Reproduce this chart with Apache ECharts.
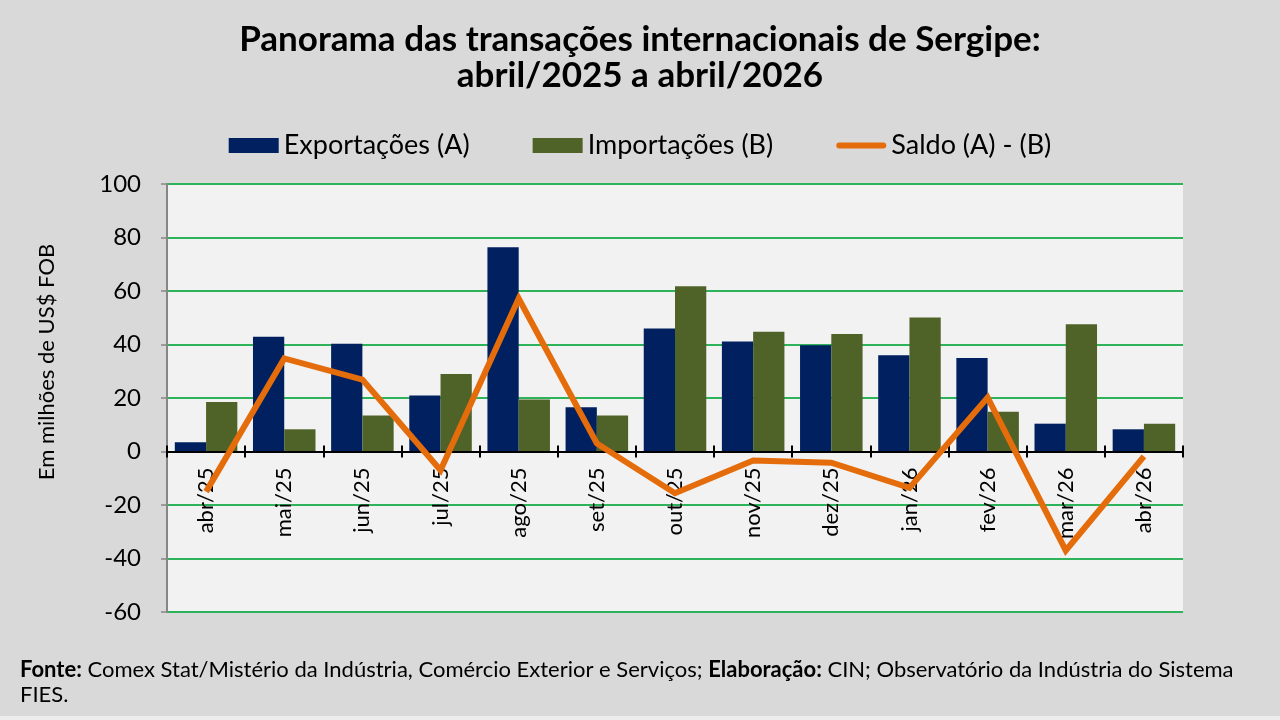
<!DOCTYPE html>
<html>
<head>
<meta charset="utf-8">
<script src="https://cdn.jsdelivr.net/npm/echarts@6/dist/echarts.min.js"></script>
<style>
html,body{margin:0;padding:0;background:#d9d9d9;}
#c{width:1280px;height:720px;}
</style>
</head>
<body>
<div id="c"></div>
<script>
const categories = ['abr/25','mai/25','jun/25','jul/25','ago/25','set/25','out/25','nov/25','dez/25','jan/26','fev/26','mar/26','abr/26'];
const exportacoes = [3.5, 42.9, 40.3, 20.9, 76.4, 16.5, 46.0, 41.1, 39.7, 36.0, 35.0, 10.4, 8.3];
const importacoes = [18.5, 8.3, 13.5, 29.0, 19.4, 13.5, 61.8, 44.8, 43.9, 50.1, 14.9, 47.6, 10.4];
const saldo = [-15.0, 34.8, 26.9, -7.0, 57.2, 3.0, -15.6, -3.4, -4.2, -13.6, 20.2, -37.0, -1.8];
const yTicks = [-60, -40, -20, 0, 20, 40, 60, 80, 100];

const FONT = 'Lato';
const gridTop = 184, gridBottom = 108, chartH = 720;
const yMin = yTicks[0], yMax = yTicks[yTicks.length - 1];
const plotH = chartH - gridTop - gridBottom;
// distance of the zero line above the grid's bottom edge, from the axis scale
const zeroOffset = -plotH * (0 - yMin) / (yMax - yMin);

const chart = echarts.init(document.getElementById('c'));
chart.setOption({
  backgroundColor: '#d9d9d9',
  animation: false,
  textStyle: { fontFamily: FONT, color: '#000' },
  title: {
    text: 'Panorama das transações internacionais de Sergipe:\nabril/2025 a abril/2026',
    left: 'center',
    top: 17,
    textStyle: { fontFamily: FONT, fontSize: 35, fontWeight: 'bold', color: '#000', lineHeight: 36 }
  },
  legend: {
    top: 127,
    left: 'center',
    itemWidth: 50,
    itemHeight: 15,
    itemGap: 63,
    textStyle: { fontFamily: FONT, fontSize: 27, color: '#000' },
    data: [
      { name: 'Exportações (A)', icon: 'rect' },
      { name: 'Importações (B)', icon: 'rect' },
      { name: 'Saldo (A) - (B)', icon: 'path://M3,0 L47,0 A3,3 0 0 1 47,6 L3,6 A3,3 0 0 1 3,0 Z' }
    ]
  },
  grid: {
    left: 167, right: 97, top: gridTop, bottom: gridBottom,
    show: true, backgroundColor: '#f2f2f2', borderWidth: 0
  },
  xAxis: [
    {
      type: 'category',
      data: categories,
      offset: zeroOffset,
      axisLine: { onZero: false, lineStyle: { color: '#000', width: 2 } },
      axisTick: { show: true, length: 6, lineStyle: { color: '#000', width: 2 } },
      axisLabel: { rotate: 90, fontSize: 22, color: '#000', margin: 16, fontFamily: FONT },
      z: 5
    },
    {
      type: 'category',
      data: categories,
      position: 'bottom',
      offset: zeroOffset,
      axisLine: { show: false, onZero: false },
      axisTick: { show: true, inside: true, length: 6, lineStyle: { color: '#000', width: 2 } },
      axisLabel: { show: false },
      splitLine: { show: false },
      z: 5
    }
  ],
  yAxis: {
    type: 'value',
    min: yMin,
    max: yMax,
    interval: 20,
    axisLine: { show: true, lineStyle: { color: '#868686', width: 2 } },
    axisTick: { show: true, length: 6, lineStyle: { color: '#868686', width: 1.5 } },
    axisLabel: { fontSize: 24, color: '#000', margin: 26, fontFamily: FONT },
    splitLine: { show: true, lineStyle: { color: '#2fb35a', width: 2 } }
  },
  series: [
    {
      name: 'Exportações (A)', type: 'bar', data: exportacoes,
      barGap: '0%', barCategoryGap: '20%',
      itemStyle: { color: '#00205f' }
    },
    {
      name: 'Importações (B)', type: 'bar', data: importacoes,
      barGap: '0%', barCategoryGap: '20%',
      itemStyle: { color: '#4f6228' }
    },
    {
      name: 'Saldo (A) - (B)', type: 'line', data: saldo,
      symbol: 'none', z: 10,
      lineStyle: { color: '#e46c0a', width: 6, join: 'miter' },
      itemStyle: { color: '#e46c0a' }
    }
  ],
  graphic: [
    {
      type: 'text',
      rotation: Math.PI / 2,
      x: 47, y: 362,
      style: { text: 'Em milhões de US$ FOB', fontFamily: FONT, fontSize: 22, fill: '#000', align: 'center', verticalAlign: 'middle' }
    },
    {
      type: 'text', left: 20, top: 657,
      style: {
        text: '{b|Fonte:} Comex Stat/Mistério da Indústria, Comércio Exterior e Serviços; {b|Elaboração:} CIN; Observatório da Indústria do Sistema\nFIES.',
        fontFamily: FONT, fontSize: 22, fill: '#000', lineHeight: 25,
        rich: { b: { fontFamily: FONT, fontSize: 22, fontWeight: 'bold', fill: '#000', lineHeight: 25 } }
      }
    },
    {
      type: 'rect', left: 0, top: 716, shape: { width: 1280, height: 4 },
      style: { fill: '#ededed' }
    }
  ]
});
</script>
</body>
</html>
